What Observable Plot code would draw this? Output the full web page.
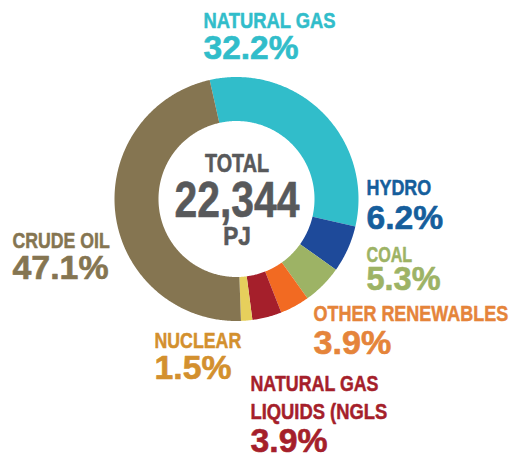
<!DOCTYPE html>
<html>
<head>
<meta charset="utf-8">
<script src="https://cdn.jsdelivr.net/npm/d3@7"></script>
<script src="https://cdn.jsdelivr.net/npm/@observablehq/plot@0.6"></script>
<style>
html,body{margin:0;padding:0;background:#fff;}
#chart svg{display:block;}
</style>
</head>
<body>
<div id="chart"></div>
<script>
// ---- data ----
const categories = ["NATURAL GAS", "HYDRO", "COAL", "OTHER RENEWABLES", "NATURAL GAS\nLIQUIDS (NGLS", "NUCLEAR", "CRUDE OIL"];
const shares = [32.2, 6.2, 5.3, 3.9, 3.9, 1.5, 47.1];
const shareLabels = ["32.2%", "6.2%", "5.3%", "3.9%", "3.9%", "1.5%", "47.1%"];
const totalLines = ["TOTAL", "22,344", "PJ"];

// ---- styles / layout ----
const sliceColors = ["#31bdca", "#1e4a9a", "#9db365", "#f26a22", "#a51f2b", "#e6cf5c", "#857551"];
const labelColors = ["#31bdca", "#155e9c", "#9db365", "#e5843a", "#a51f2b", "#d3902e", "#857551"];
const W = 513, H = 457;
const cx = 236.5, cy = 199, rOuter = 122, rInner = 78;
const startAngle = -0.222;
// [labelX, labelTopY, pctX, pctTopY]
const labelPos = [
  [203, 11.5, 203, 35.5],
  [366, 178.5, 366, 205],
  [366, 246, 366, 266.5],
  [313, 305, 313, 330],
  [250, 375, 250, 428.5],
  [154, 331.5, 154, 355],
  [12, 231.5, 12, 255]
];
const lineStep = 27.7;
const labelWidths = [[132], [64.7], [45.7], [194.7], [128, 136.7], [86.7], [97.3]];
const pctWidths = [95, 76.7, 74, 77.7, 77, 77, 96];
const centerWidths = [64, 125, 27.6];
const font = "'Liberation Sans',Arial,Helvetica,sans-serif";

// ---- arcs via d3.pie ----
const pie = d3.pie().sort(null).value(d => d).startAngle(startAngle).endAngle(startAngle + 2 * Math.PI);
const arcs = pie(shares);
const arcPts = [];
arcs.forEach((a, i) => {
  const n = Math.max(8, Math.ceil((a.endAngle - a.startAngle) / 0.01));
  for (let k = 0; k <= n; k++) {
    const t = a.startAngle + (a.endAngle - a.startAngle) * k / n;
    arcPts.push({
      cat: categories[i], color: sliceColors[i],
      x1: cx + rOuter * Math.sin(t), y1: cy - rOuter * Math.cos(t),
      x2: cx + rInner * Math.sin(t), y2: cy - rInner * Math.cos(t)
    });
  }
});

const labels = [];
categories.forEach((c, i) => {
  c.split("\n").forEach((line, j) => {
    labels.push({c: line, color: labelColors[i], x: labelPos[i][0], y: labelPos[i][1] + j * lineStep, w: labelWidths[i][j]});
  });
});
const pcts = shareLabels.map((p, i) => ({p, color: labelColors[i], x: labelPos[i][2], y: labelPos[i][3], w: pctWidths[i]}));
const center = [
  {t: totalLines[0], y: 153.3, size: 25, w: centerWidths[0]},
  {t: totalLines[1], y: 180.7, size: 50, w: centerWidths[1]},
  {t: totalLines[2], y: 226.7, size: 25, w: centerWidths[2]}
];

const chart = Plot.plot({
  width: W, height: H,
  margin: 0,
  x: {domain: [0, W], range: [0, W], axis: null},
  y: {domain: [0, H], range: [0, H], axis: null},
  color: {type: "identity"},
  style: {background: "#fff"},
  marks: [
    Plot.area(arcPts, {x1: "x1", y1: "y1", x2: "x2", y2: "y2", z: "cat", fill: "color", curve: "linear"}),
    Plot.text(labels, {x: "x", y: "y", text: "c", fill: "color", stroke: "color", strokeWidth: 0.5, textAnchor: "start", lineAnchor: "top",
      fontSize: 22, fontWeight: "bold", fontFamily: font}),
    Plot.text(pcts, {x: "x", y: "y", text: "p", fill: "color", stroke: "color", strokeWidth: 0.6, textAnchor: "start", lineAnchor: "top",
      fontSize: 33, fontWeight: "bold", fontFamily: font}),
    Plot.text(center, {x: () => cx, y: "y", text: "t", fill: "#58595b", stroke: "#58595b", strokeWidth: 0.6, textAnchor: "middle", lineAnchor: "top",
      fontSize: "size", fontWeight: "bold", fontFamily: font})
  ]
});

// condense text to the reference's narrow type
const groups = chart.querySelectorAll('g[aria-label="text"]');
const widthSets = [labels.map(d => d.w), pcts.map(d => d.w), center.map(d => d.w)];
groups.forEach((g, gi) => {
  g.setAttribute("paint-order", "stroke");
  g.querySelectorAll("text").forEach((t, i) => {
    const w = widthSets[gi][i];
    if (w) {
      t.setAttribute("textLength", w);
      t.setAttribute("lengthAdjust", "spacingAndGlyphs");
    }
  });
});
document.getElementById("chart").appendChild(chart);
</script>
</body>
</html>
